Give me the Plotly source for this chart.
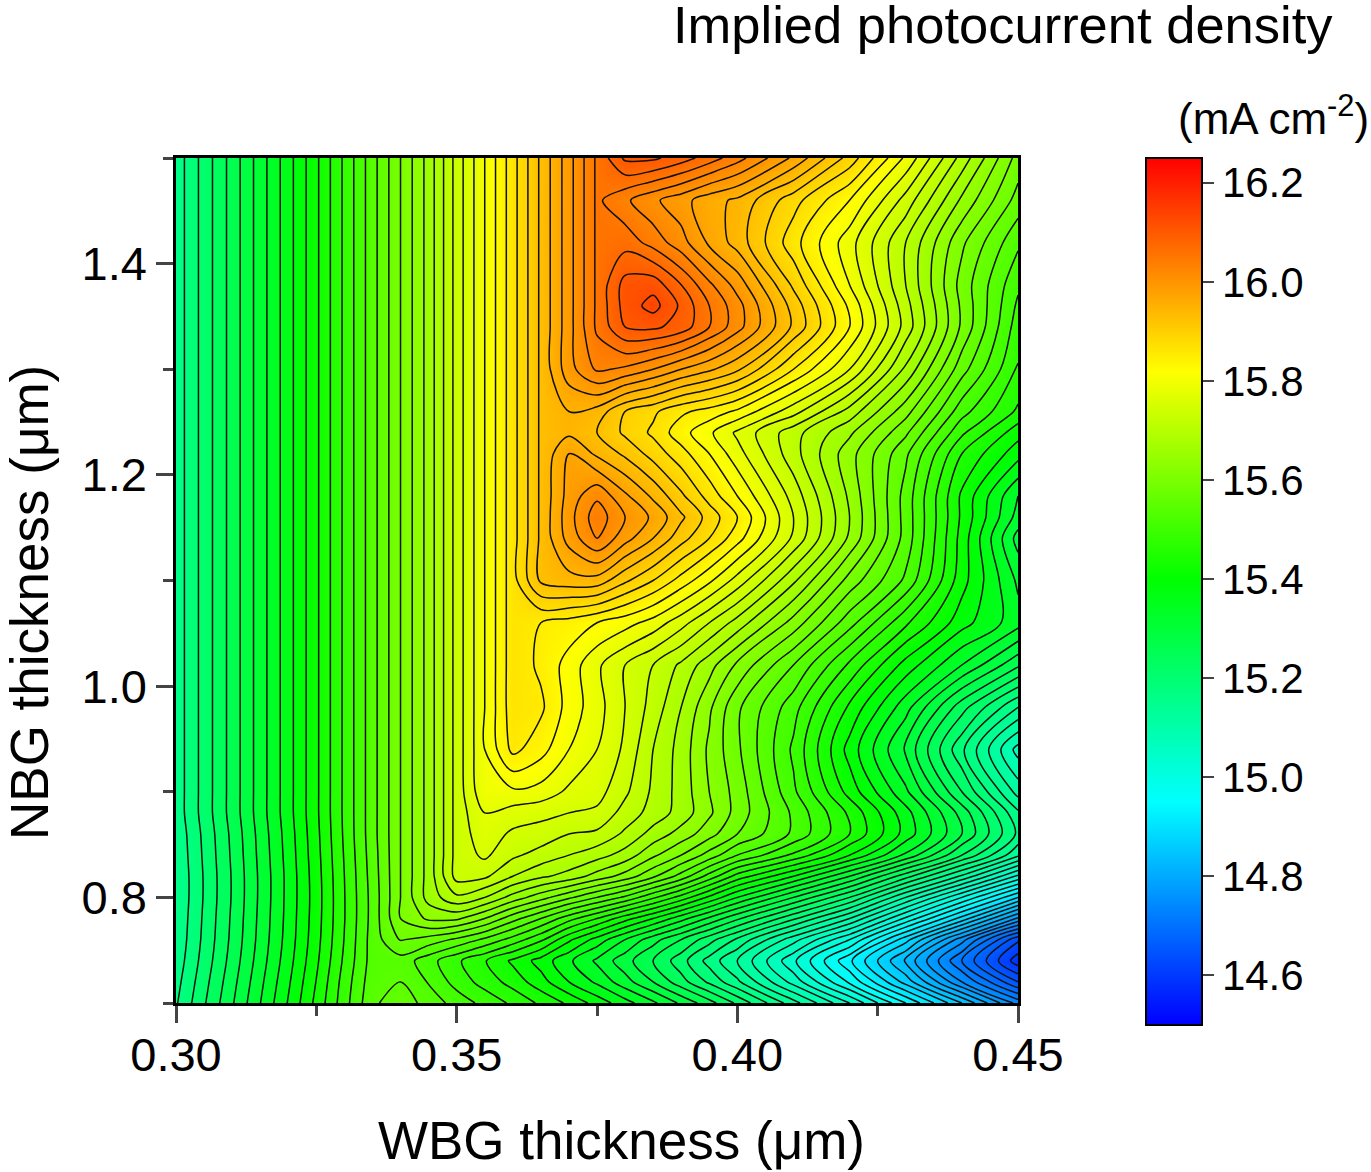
"""Implied photocurrent density map, WBG vs NBG thickness."""

import plotly.graph_objects as go

# WBG thickness (um), columns of the map
wbg = [0.30, 0.31, 0.32, 0.325, 0.33, 0.335, 0.34, 0.345, 0.35, 0.355, 0.36, 0.365,
       0.37, 0.375, 0.38, 0.385, 0.39, 0.395, 0.40, 0.41, 0.42, 0.43, 0.44, 0.45]

# NBG thickness (um), rows of the map
nbg = [0.70, 0.72, 0.74, 0.76, 0.78, 0.80, 0.82, 0.84, 0.86, 0.88, 0.90, 0.94, 0.98,
       1.02, 1.06, 1.10, 1.14, 1.16, 1.18, 1.22, 1.24, 1.26, 1.30, 1.34, 1.36, 1.38,
       1.42, 1.46, 1.50]

# left part of each row, where the WBG cell limits the current (one row of values)
left = [15.16, 15.26, 15.365, 15.42, 15.48, 15.54, 15.60, 15.66, 15.735]

# current density (mA cm-2), read row by row
row_070 = [15.172, 15.272, 15.377, 15.432, 15.49, 15.545, 15.565, 15.54, 15.515, 15.492, 15.47, 15.445, 15.42, 15.39, 15.36, 15.33, 15.295, 15.26, 15.22, 15.135, 15.05, 14.95, 14.85, 14.74]
row_072 = [15.166, 15.266, 15.371, 15.426, 15.486, 15.54, 15.55, 15.523, 15.49, 15.465, 15.44, 15.41, 15.375, 15.345, 15.31, 15.275, 15.235, 15.195, 15.155, 15.065, 14.97, 14.865, 14.75, 14.65]
row_074 = [15.16, 15.26, 15.365, 15.42, 15.48, 15.536, 15.54, 15.51, 15.48, 15.452, 15.42, 15.39, 15.355, 15.32, 15.285, 15.25, 15.21, 15.165, 15.125, 15.03, 14.93, 14.82, 14.70, 14.585]
row_076 = [15.156, 15.256, 15.361, 15.416, 15.476, 15.536, 15.577, 15.565, 15.545, 15.52, 15.49, 15.455, 15.405, 15.365, 15.325, 15.285, 15.25, 15.21, 15.17, 15.085, 15.0, 14.885, 14.76, 14.63]
row_078 = [15.154, 15.254, 15.359, 15.414, 15.474, 15.534, 15.60, 15.63, 15.63, 15.60, 15.56, 15.525, 15.485, 15.45, 15.41, 15.375, 15.335, 15.295, 15.255, 15.18, 15.10, 14.995, 14.89, 14.77]
row_080 = [15.152, 15.252, 15.358, 15.413, 15.474, 15.534, 15.60, 15.66, 15.695, 15.675, 15.64, 15.61, 15.58, 15.55, 15.52, 15.48, 15.44, 15.395, 15.35, 15.275, 15.20, 15.10, 15.0, 14.90]
row_082 = [15.152, 15.252, 15.358, 15.414, 15.475, 15.536, 15.60, 15.66, 15.735, 15.73, 15.70, 15.68, 15.665, 15.64, 15.615, 15.58, 15.54, 15.49, 15.44, 15.375, 15.30, 15.21, 15.12, 15.02]
row_084 = [15.154, 15.254, 15.36, 15.416, 15.477, 15.538, 15.60, 15.66, 15.735, 15.755, 15.73, 15.715, 15.70, 15.685, 15.665, 15.63, 15.60, 15.565, 15.525, 15.47, 15.40, 15.32, 15.225, 15.13]
row_086 = [15.156, 15.256, 15.362, 15.418, 15.479, 15.54, 15.60, 15.66, 15.735, 15.765, 15.745, 15.74, 15.725, 15.72, 15.695, 15.665, 15.64, 15.61, 15.575, 15.52, 15.45, 15.365, 15.275, 15.17]
row_088 = left + [15.775, 15.765, 15.757, 15.75, 15.745, 15.715, 15.69, 15.665, 15.63, 15.59, 15.52, 15.445, 15.36, 15.265, 15.155]
row_090 = left + [15.795, 15.795, 15.79, 15.77, 15.76, 15.73, 15.695, 15.665, 15.625, 15.59, 15.505, 15.415, 15.33, 15.225, 15.115]
row_094 = left + [15.80, 15.857, 15.835, 15.80, 15.775, 15.745, 15.70, 15.665, 15.62, 15.58, 15.495, 15.39, 15.295, 15.18, 15.065]
row_098 = left + [15.80, 15.865, 15.855, 15.815, 15.785, 15.75, 15.715, 15.675, 15.63, 15.58, 15.51, 15.42, 15.335, 15.235, 15.15]
row_102 = left + [15.80, 15.865, 15.845, 15.815, 15.78, 15.75, 15.725, 15.695, 15.66, 15.62, 15.55, 15.47, 15.39, 15.325, 15.255]
row_106 = left + [15.80, 15.865, 15.85, 15.84, 15.825, 15.81, 15.79, 15.76, 15.725, 15.69, 15.615, 15.535, 15.455, 15.385, 15.335]
row_110 = left + [15.80, 15.865, 15.93, 15.94, 15.94, 15.905, 15.875, 15.84, 15.805, 15.765, 15.68, 15.59, 15.52, 15.41, 15.32]
row_114 = left + [15.80, 15.865, 15.93, 15.985, 16.025, 15.985, 15.95, 15.91, 15.875, 15.835, 15.745, 15.645, 15.54, 15.415, 15.29]
row_116 = left + [15.80, 15.865, 15.93, 15.99, 16.04, 16.0, 15.97, 15.93, 15.89, 15.85, 15.75, 15.65, 15.54, 15.42, 15.315]
row_118 = left + [15.80, 15.865, 15.93, 15.985, 16.02, 15.98, 15.945, 15.905, 15.865, 15.825, 15.74, 15.645, 15.54, 15.42, 15.325]
row_122 = left + [15.80, 15.865, 15.93, 15.975, 15.945, 15.92, 15.89, 15.86, 15.825, 15.785, 15.71, 15.635, 15.555, 15.45, 15.385]
row_124 = left + [15.80, 15.865, 15.93, 15.945, 15.925, 15.895, 15.87, 15.835, 15.805, 15.77, 15.71, 15.655, 15.58, 15.48, 15.41]
row_126 = left + [15.80, 15.865, 15.93, 15.95, 15.94, 15.90, 15.88, 15.855, 15.84, 15.82, 15.76, 15.69, 15.61, 15.51, 15.445]
row_130 = left + [15.80, 15.865, 15.93, 15.99, 16.03, 16.02, 16.0, 15.975, 15.955, 15.93, 15.85, 15.775, 15.67, 15.56, 15.473]
row_134 = left + [15.80, 15.865, 15.93, 15.99, 16.055, 16.10, 16.105, 16.09, 16.05, 16.01, 15.92, 15.825, 15.715, 15.595, 15.487]
row_136 = left + [15.80, 15.865, 15.93, 15.99, 16.055, 16.11, 16.135, 16.095, 16.05, 16.01, 15.915, 15.82, 15.71, 15.595, 15.495]
row_138 = left + [15.80, 15.865, 15.93, 15.99, 16.055, 16.11, 16.115, 16.075, 16.03, 15.99, 15.895, 15.80, 15.70, 15.59, 15.505]
row_142 = left + [15.80, 15.865, 15.93, 15.99, 16.055, 16.065, 16.04, 16.01, 15.97, 15.94, 15.86, 15.785, 15.70, 15.605, 15.53]
row_146 = left + [15.80, 15.865, 15.93, 15.99, 16.055, 16.03, 16.005, 15.985, 15.96, 15.945, 15.885, 15.825, 15.74, 15.645, 15.565]
row_150 = left + [15.80, 15.865, 15.93, 15.99, 16.055, 16.105, 16.105, 16.087, 16.063, 16.035, 15.97, 15.89, 15.795, 15.69, 15.59]

density = [row_070, row_072, row_074, row_076, row_078, row_080, row_082, row_084,
           row_086, row_088, row_090, row_094, row_098, row_102, row_106, row_110,
           row_114, row_116, row_118, row_122, row_124, row_126, row_130, row_134,
           row_136, row_138, row_142, row_146, row_150]

rainbow = [
    [0.0, "#0000ff"],
    [0.257, "#00ffff"],
    [0.514, "#00ff00"],
    [0.754, "#ffff00"],
    [1.0, "#ff0000"],
]

FONT = "Liberation Sans, Arial, sans-serif"

fig = go.Figure()

fig.add_trace(go.Heatmap(
    x=wbg,
    y=nbg,
    z=density,
    zmin=14.5,
    zmax=16.25,
    zsmooth="best",
    colorscale=rainbow,
    colorbar=dict(
        x=(1146 - 176) / 842,
        xanchor="left",
        y=1,
        yanchor="top",
        len=867,
        lenmode="pixels",
        thickness=56,
        thicknessmode="pixels",
        xpad=0,
        ypad=0,
        outlinecolor="black",
        outlinewidth=2,
        tick0=14.6,
        dtick=0.2,
        ticks="outside",
        ticklen=11,
        tickwidth=2,
        tickformat=".1f",
        tickfont=dict(family=FONT, size=42, color="black"),
    ),
))

fig.add_trace(go.Contour(
    x=wbg,
    y=nbg,
    z=density,
    showscale=False,
    contours=dict(coloring="none", start=14.5, end=16.25, size=0.025),
    line=dict(color="#111111", width=1.5, smoothing=0.9),
    hoverinfo="skip",
))

fig.update_layout(
    width=1371,
    height=1172,
    margin=dict(l=176, r=353, t=158, b=169, autoexpand=False),
    paper_bgcolor="white",
    plot_bgcolor="white",
    font=dict(family=FONT, color="black"),
    showlegend=False,
)

fig.update_xaxes(
    range=[0.30, 0.45],
    tick0=0.30,
    dtick=0.05,
    tickformat=".2f",
    ticks="outside",
    ticklen=17,
    tickwidth=2.5,
    tickfont=dict(size=47),
    ticklabelstandoff=-8,
    minor=dict(ticks="outside", tick0=0.325, dtick=0.05, ticklen=10, tickwidth=2.5),
    showgrid=False,
    zeroline=False,
    showline=True,
    linecolor="black",
    linewidth=2.5,
    mirror=True,
)

fig.update_yaxes(
    range=[0.70, 1.50],
    tick0=0.80,
    dtick=0.20,
    tickformat=".1f",
    ticks="outside",
    ticklen=17,
    tickwidth=2.5,
    tickfont=dict(size=47),
    minor=dict(ticks="outside", tick0=0.70, dtick=0.20, ticklen=10, tickwidth=2.5),
    showgrid=False,
    zeroline=False,
    showline=True,
    linecolor="black",
    linewidth=2.5,
    mirror=True,
)

# axis titles sit off-centre in the original, so they are placed by hand
fig.add_annotation(
    text="WBG thickness (μm)",
    xref="paper", yref="paper",
    x=(621 - 176) / 842, y=(1003 - 1140) / 845,
    xanchor="center", yanchor="middle",
    showarrow=False,
    font=dict(size=53),
)
fig.add_annotation(
    text="NBG thickness (μm)",
    xref="paper", yref="paper",
    x=(29 - 176) / 842, y=(1003 - 603) / 845,
    xanchor="center", yanchor="middle",
    textangle=-90,
    showarrow=False,
    font=dict(size=53),
)
fig.add_annotation(
    text="Implied photocurrent density",
    xref="paper", yref="paper",
    x=(1335 - 176) / 842, y=(1003 - 24) / 845,
    xanchor="right", yanchor="middle",
    showarrow=False,
    font=dict(size=52.5),
)
fig.add_annotation(
    text="(mA cm<sup>-2</sup>)",
    xref="paper", yref="paper",
    x=(1371 - 176) / 842, y=(1003 - 115) / 845,
    xanchor="right", yanchor="middle",
    showarrow=False,
    font=dict(size=44),
)

fig.write_html("out.html", config={"displayModeBar": False}, post_script="document.body.style.margin='0';")
